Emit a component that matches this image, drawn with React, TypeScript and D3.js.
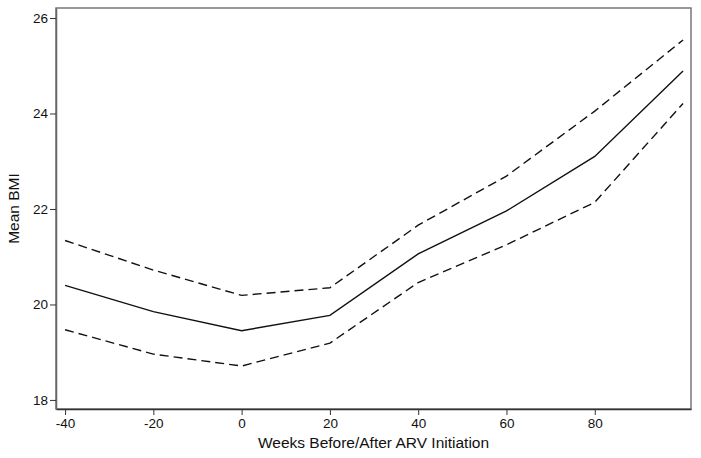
import React, { useEffect, useRef } from "react";
import * as d3 from "d3";

const weeks = [-40, -20, 0, 20, 40, 60, 80, 100];
const meanBmi = [20.4, 19.85, 19.45, 19.77, 21.06, 21.96, 23.1, 24.89];
const upperCi = [21.34, 20.72, 20.19, 20.35, 21.66, 22.69, 24.05, 25.54];
const lowerCi = [19.47, 18.96, 18.71, 19.19, 20.46, 21.25, 22.14, 24.21];
const xTicks = [-40, -20, 0, 20, 40, 60, 80];
const yTicks = [18, 20, 22, 24, 26];

const App: React.FC = () => {
  const svgRef = useRef<SVGSVGElement | null>(null);

  useEffect(() => {
    const width = 701;
    const height = 458;
    const left = 56, right = 691, top = 8, bottom = 409;

    const svg = d3.select(svgRef.current);
    svg.selectAll("*").remove();
    svg.attr("width", width).attr("height", height);

    const x = d3.scaleLinear().domain([-42.05, 101.8]).range([left, right]);
    const y = d3.scaleLinear().domain([17.81, 26.21]).range([bottom, top]);

    const font = "Liberation Sans, Arial, sans-serif";

    // frame
    svg.append("rect")
      .attr("x", left).attr("y", top)
      .attr("width", right - left).attr("height", bottom - top)
      .attr("fill", "none").attr("stroke", "#777").attr("stroke-width", 1.5);

    // axes (plain hyphen for negatives)
    const xAxis = svg.append("g")
      .attr("transform", `translate(0,${bottom})`)
      .call(d3.axisBottom(x).tickValues(xTicks).tickFormat((d) => String(d))
        .tickSize(6).tickPadding(3).tickSizeOuter(0));
    xAxis.select(".domain").attr("stroke", "#333").attr("stroke-width", 1.5);
    xAxis.selectAll(".tick line").attr("stroke", "#333");
    xAxis.selectAll("text").attr("font-family", font).attr("font-size", 13.5).attr("fill", "#111");

    const yAxis = svg.append("g")
      .attr("transform", `translate(${left},0)`)
      .call(d3.axisLeft(y).tickValues(yTicks).tickFormat((d) => String(d))
        .tickSize(6).tickPadding(2).tickSizeOuter(0));
    yAxis.select(".domain").attr("stroke", "#666").attr("stroke-width", 1.5);
    yAxis.selectAll(".tick line").attr("stroke", "#333");
    yAxis.selectAll("text").attr("font-family", font).attr("font-size", 13.5).attr("fill", "#111");

    const line = d3.line<number>()
      .x((_, i) => x(weeks[i]))
      .y((d) => y(d));

    svg.append("path").attr("d", line(upperCi) || "")
      .attr("fill", "none").attr("stroke", "#111").attr("stroke-width", 1.4)
      .attr("stroke-dasharray", "9,5");
    svg.append("path").attr("d", line(lowerCi) || "")
      .attr("fill", "none").attr("stroke", "#111").attr("stroke-width", 1.4)
      .attr("stroke-dasharray", "9,5");
    svg.append("path").attr("d", line(meanBmi) || "")
      .attr("fill", "none").attr("stroke", "#111").attr("stroke-width", 1.4);

    svg.append("text")
      .attr("x", (left + right) / 2).attr("y", 448)
      .attr("text-anchor", "middle")
      .attr("font-family", font).attr("font-size", 15.5).attr("fill", "#111")
      .text("Weeks Before/After ARV Initiation");

    svg.append("text")
      .attr("transform", `translate(19,${(top + bottom) / 2}) rotate(-90)`)
      .attr("text-anchor", "middle")
      .attr("font-family", font).attr("font-size", 15.5).attr("fill", "#111")
      .text("Mean BMI");
  }, []);

  return (
    <svg
      ref={svgRef}
      style={{ position: "absolute", left: 0, top: 0, display: "block", background: "#fff" }}
    />
  );
};

export default App;
